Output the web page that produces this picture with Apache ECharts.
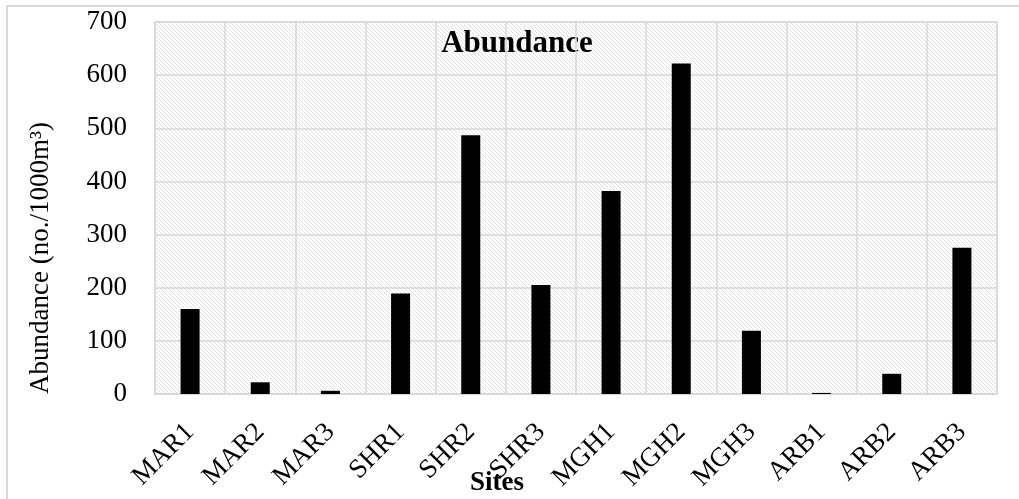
<!DOCTYPE html>
<html>
<head>
<meta charset="utf-8">
<script src="https://cdn.jsdelivr.net/npm/echarts@6/dist/echarts.min.js"></script>
<style>
  html, body { margin: 0; padding: 0; background: #fff; }
</style>
</head>
<body>
<div id="chart" style="width: 1019px; height: 499px;"></div>
<script>
const sites = ['MAR1', 'MAR2', 'MAR3', 'SHR1', 'SHR2', 'SHR3', 'MGH1', 'MGH2', 'MGH3', 'ARB1', 'ARB2', 'ARB3'];
const abundance = [160, 22, 6, 189, 487, 205, 382, 622, 119, 2, 38, 275];
const yTicks = [0, 100, 200, 300, 400, 500, 600, 700];

// diagonal hatch for the plot background
const hatch = document.createElement('canvas');
hatch.width = 4;
hatch.height = 4;
const hctx = hatch.getContext('2d');
hctx.fillStyle = '#ffffff';
hctx.fillRect(0, 0, 4, 4);
hctx.strokeStyle = '#e2e2e2';
hctx.lineWidth = 1;
hctx.beginPath();
hctx.moveTo(-1, -1); hctx.lineTo(5, 5);
hctx.moveTo(-1, 3); hctx.lineTo(1, 5);
hctx.moveTo(3, -1); hctx.lineTo(5, 1);
hctx.stroke();

const font = '"Liberation Serif", "Times New Roman", serif';
const chart = echarts.init(document.getElementById('chart'));

chart.setOption({
  animation: false,
  grid: {
    left: 155, right: 22, top: 22, bottom: 105,
    show: true,
    backgroundColor: { image: hatch, repeat: 'repeat' },
    borderColor: '#d9d9d9',
    borderWidth: 1.5
  },
  graphic: [
    {
      type: 'rect', silent: true, z: -10,
      shape: { x: 7, y: 6, width: 1200, height: 700 },
      style: { fill: 'none', stroke: '#d9d9d9', lineWidth: 2 }
    },
    {
      type: 'text', x: 517, y: 44,
      style: { text: 'Abundance', font: 'bold 31px ' + font, fill: '#000', textAlign: 'center', textVerticalAlign: 'middle' }
    },
    {
      type: 'text', x: 497, y: 483,
      style: { text: 'Sites', font: 'bold 27px ' + font, fill: '#000', textAlign: 'center', textVerticalAlign: 'middle' }
    },
    {
      type: 'text', x: 41, y: 258, rotation: Math.PI / 2,
      style: { text: 'Abundance (no./1000m³)', font: '27px ' + font, fill: '#000', textAlign: 'center', textVerticalAlign: 'middle' }
    }
  ],
  xAxis: {
    type: 'category',
    data: sites,
    boundaryGap: true,
    axisLine: { lineStyle: { color: '#d9d9d9', width: 1.5 } },
    axisTick: { show: false },
    splitLine: { show: true, lineStyle: { color: '#d9d9d9', width: 1.5 } },
    axisLabel: {
      interval: 0,
      rotate: 45,
      margin: 34,
      color: '#000',
      fontFamily: font,
      fontSize: 27
    }
  },
  yAxis: {
    type: 'value',
    min: yTicks[0],
    max: yTicks[yTicks.length - 1],
    interval: 100,
    axisLine: { show: false },
    axisTick: { show: false },
    splitLine: { lineStyle: { color: '#d9d9d9', width: 1.5 } },
    axisLabel: {
      margin: 28,
      color: '#000',
      fontFamily: font,
      fontSize: 27
    }
  },
  series: [
    {
      name: 'Abundance',
      type: 'bar',
      barWidth: 19,
      itemStyle: { color: '#000' },
      data: abundance
    }
  ]
});
</script>
</body>
</html>
